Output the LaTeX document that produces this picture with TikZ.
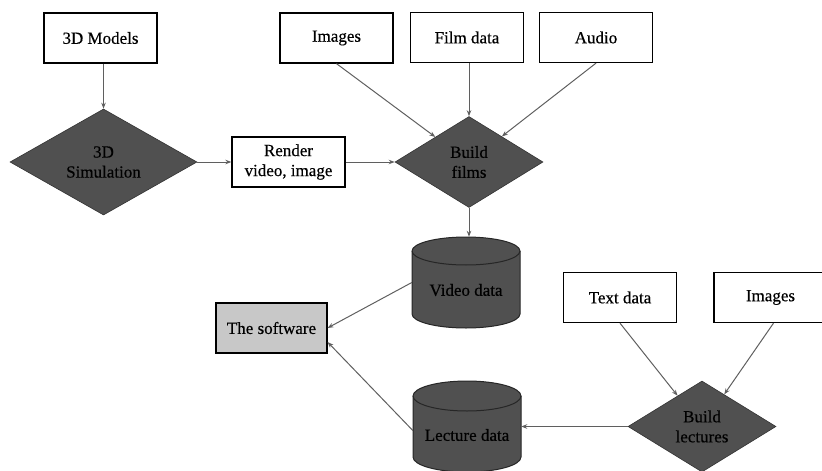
\documentclass[tikz,border=0pt]{standalone}
\usepackage{fontspec}
\setmainfont{Liberation Serif}
\newfontfamily\tmsfont{Liberation Serif}[FakeBold=0.4]
\usetikzlibrary{shapes.geometric,arrows.meta}
\definecolor{darkfill}{RGB}{80,80,80}
\definecolor{softfill}{RGB}{200,200,200}
\definecolor{linecol}{RGB}{95,95,95}
\begin{document}
\begin{tikzpicture}[x=1pt,y=-1pt,
  every node/.style={font=\tmsfont\fontsize{17}{20}\selectfont, text=black},
  databox/.style={draw=black, line width=1.3pt, fill=white, minimum width=113pt, minimum height=50pt, inner sep=0pt, align=center},
  softbox/.style={draw=black, line width=1.1pt, fill=softfill, minimum width=111pt, minimum height=50pt, inner sep=0pt},
  process/.style={diamond, draw=black!80, line width=0.6pt, fill=darkfill, inner sep=0pt, align=center},
  anchorbox/.style={rectangle, inner sep=0pt, minimum width=108pt, minimum height=91pt},
  cylstyle/.style={draw=black!85, line width=1pt, fill=darkfill},
  conn/.style={draw=linecol, line width=1pt, -{Stealth[length=6pt,width=4.5pt]}}
]
\useasboundingbox (0,0) rectangle (822,471);

% top boxes
\node[databox] (m3d) at (100.5,38) {3D Models};
\node[databox] (img1) at (336.5,38) {Images};
\node[databox] (film) at (467,37.5) {Film data};
\node[databox] (audio) at (596,37.5) {Audio};

% diamonds
\node[process, minimum width=187pt, minimum height=92pt] (sim) at (103.5,162) {3D\\Simulation};
\node[process, minimum width=148pt, minimum height=91pt] (films) at (469,162) {Build\\films};
\node[databox] (render) at (288.5,162) {Render\\video, image};

% video data cylinder
\node[anchorbox] (vd) at (466,282.5) {};
\path[cylstyle] (412,251) -- (412,314) arc[start angle=180, end angle=360, x radius=54, y radius=-14] -- (520,251) arc[start angle=0, end angle=180, x radius=54, y radius=-14] -- cycle;
\draw[draw=black!85, line width=1pt] (412,251) arc[start angle=180, end angle=360, x radius=54, y radius=-14];
\node at (466,290) {Video data};

% lecture data cylinder
\node[anchorbox] (ld) at (467,426.5) {};
\path[cylstyle] (413,396) -- (413,457) arc[start angle=180, end angle=360, x radius=54, y radius=-15] -- (521,396) arc[start angle=0, end angle=180, x radius=54, y radius=-15] -- cycle;
\draw[draw=black!85, line width=1pt] (413,396) arc[start angle=180, end angle=360, x radius=54, y radius=-15];
\node at (467,435) {Lecture data};

% software
\node[softbox] (soft) at (271.5,328) {The software};

% lecture inputs
\node[databox] (textd) at (620,297.5) {Text data};
\node[databox] (img2) at (770.5,297.5) {Images};
\node[process, minimum width=148pt, minimum height=91pt] (lect) at (702,426.5) {Build\\lectures};

% connectors
\draw[conn] (sim.north |- m3d.south) -- (sim.north);
\draw[conn] (sim.east) -- (render.west);
\draw[conn] (render.east) -- (films.west);
\draw[conn] (img1.south) -- (films);
\draw[conn] (films.north |- film.south) -- (films.north);
\draw[conn] (audio.south) -- (films);
\draw[conn] (films.south) -- (films.south |- vd.north);
\draw[conn] (vd.west) -- (soft.east);
\draw[conn] ([yshift=-4pt]ld.west) -- ([yshift=-14pt]soft.east);
\draw[conn] (textd.south) -- (lect);
\draw[conn] ([xshift=3pt]img2.south) -- (lect);
\draw[conn] (lect.west) -- (lect.west -| ld.east);
\end{tikzpicture}
\end{document}
